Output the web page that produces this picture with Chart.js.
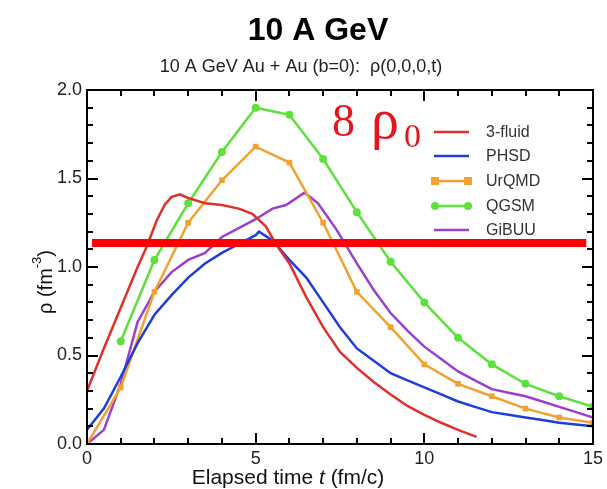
<!DOCTYPE html>
<html>
<head>
<meta charset="utf-8">
<script src="https://cdn.jsdelivr.net/npm/chart.js"></script>
<style>
html, body { margin: 0; padding: 0; background: #fff; }
</style>
</head>
<body>
<canvas id="myChart" width="607" height="489"></canvas>
<script>
// 3-fluid (red)
const fluidT = [0, 0.5, 1, 1.5, 1.76, 2.06, 2.3, 2.5, 2.75, 3.0, 3.5, 4.0, 4.5, 4.9, 5.3, 5.6, 6.0, 6.5, 7.0, 7.5, 8.0, 8.5, 9.0, 9.5, 10.0, 10.5, 11.0, 11.55];
const fluidRho = [0.30, 0.54, 0.77, 1.00, 1.11, 1.26, 1.35, 1.395, 1.41, 1.39, 1.36, 1.35, 1.33, 1.30, 1.23, 1.13, 1.02, 0.83, 0.66, 0.52, 0.43, 0.35, 0.28, 0.215, 0.165, 0.12, 0.08, 0.04];
// PHSD (blue)
const phsdT = [0, 0.5, 1, 1.5, 2, 2.5, 3, 3.5, 4, 4.5, 5, 5.1, 5.5, 6, 6.5, 7, 7.5, 8, 8.5, 9, 9.5, 10, 10.5, 11, 11.5, 12, 12.5, 13, 13.5, 14, 14.5, 15];
const phsdRho = [0.08, 0.20, 0.38, 0.57, 0.73, 0.84, 0.94, 1.02, 1.08, 1.13, 1.18, 1.20, 1.15, 1.04, 0.94, 0.80, 0.66, 0.54, 0.47, 0.40, 0.36, 0.32, 0.28, 0.24, 0.21, 0.18, 0.165, 0.15, 0.135, 0.12, 0.11, 0.10];
// UrQMD (orange, squares)
const urqmdT = [0, 1, 2, 3, 4, 5, 6, 7, 8, 9, 10, 11, 12, 13, 14, 15];
const urqmdRho = [0.0, 0.32, 0.86, 1.25, 1.49, 1.68, 1.59, 1.25, 0.86, 0.66, 0.45, 0.34, 0.27, 0.20, 0.15, 0.12];
// QGSM (green, circles)
const qgsmT = [1, 2, 3, 4, 5, 6, 7, 8, 9, 10, 11, 12, 13, 14, 15];
const qgsmRho = [0.58, 1.04, 1.36, 1.65, 1.90, 1.86, 1.61, 1.31, 1.03, 0.80, 0.60, 0.45, 0.34, 0.27, 0.21];
// GiBUU (purple)
const gibuuT = [0, 0.5, 1, 1.5, 2, 2.5, 3, 3.5, 4, 4.5, 5, 5.5, 5.9, 6.45, 6.85, 7.4, 8, 8.5, 9, 9.5, 10, 10.5, 11, 11.5, 12, 12.5, 13, 13.5, 14, 14.5, 15];
const gibuuRho = [0.0, 0.08, 0.34, 0.69, 0.86, 0.97, 1.04, 1.08, 1.17, 1.22, 1.27, 1.33, 1.35, 1.42, 1.36, 1.21, 1.02, 0.87, 0.74, 0.64, 0.55, 0.48, 0.41, 0.36, 0.31, 0.29, 0.27, 0.24, 0.21, 0.18, 0.15];
// 8 rho0 marker line
const barT = [0.15, 14.8];
const barRho = [1.135, 1.135];

const xTicks = [0, 5, 10, 15];
const yTicks = [0, 0.5, 1.0, 1.5, 2.0];
const xMinorStep = 1;
const yMinorStep = 0.1;

const names = ["3-fluid", "PHSD", "UrQMD", "QGSM", "GiBUU"];
const colors = ["#e0302c", "#1e3ed8", "#f2a232", "#5fe03e", "#9a40cc"];

const SANS = "'Liberation Sans', Arial, sans-serif";
const SERIF = "'Liberation Serif', 'Times New Roman', serif";

function pts(xs, ys) {
  return xs.map((x, i) => ({x: x, y: ys[i]}));
}

const decor = {
  id: "decor",
  afterDraw(chart) {
    const ctx = chart.ctx;
    const a = chart.chartArea;
    const L = a.left, R = a.right, T = a.top, B = a.bottom;
    ctx.save();
    ctx.fillStyle = "#000";
    // frame
    ctx.fillRect(L - 1, T - 1, R - L + 2, 2);
    ctx.fillRect(L - 1, B - 1, R - L + 2, 2);
    ctx.fillRect(L - 1, T - 1, 2, B - T + 2);
    ctx.fillRect(R - 1, T - 1, 2, B - T + 2);
    // inward ticks
    const nx = Math.round(15 / xMinorStep);
    for (let k = 0; k <= nx; k++) {
      const px = Math.round(L + (R - L) * k / nx);
      const len = k % 5 === 0 ? 11 : 6;
      ctx.fillRect(px - 1, B - len, 2, len);
      ctx.fillRect(px - 1, T, 2, len);
    }
    const ny = Math.round(2 / yMinorStep);
    for (let k = 0; k <= ny; k++) {
      const py = Math.round(B - (B - T) * k / ny);
      const len = k % 5 === 0 ? 11 : 6;
      ctx.fillRect(L, py - 1, len, 2);
      ctx.fillRect(R - len, py - 1, len, 2);
    }

    // titles
    ctx.textAlign = "center";
    ctx.textBaseline = "middle";
    ctx.font = "bold 32px " + SANS;
    ctx.fillText("10 A GeV", 318, 31);
    ctx.fillStyle = "#222";
    ctx.font = "18px " + SANS;
    ctx.fillText("10 A GeV Au + Au (b=0):  \u03c1(0,0,0,t)", 301, 67);

    // x axis title with italic t
    ctx.fillStyle = "#111";
    ctx.textAlign = "left";
    const p1 = "Elapsed time ", p3 = " (fm/c)";
    ctx.font = "21px " + SANS;
    const w1 = ctx.measureText(p1).width, w3 = ctx.measureText(p3).width;
    ctx.font = "italic 21px " + SANS;
    const w2 = ctx.measureText("t").width;
    const sx = 288 - (w1 + w2 + w3) / 2;
    const ty = 478;
    ctx.font = "21px " + SANS;
    ctx.fillText(p1, sx, ty);
    ctx.font = "italic 21px " + SANS;
    ctx.fillText("t", sx + w1, ty);
    ctx.font = "21px " + SANS;
    ctx.fillText(p3, sx + w1 + w2, ty);

    // y axis title
    ctx.save();
    ctx.translate(46, 282);
    ctx.rotate(-Math.PI / 2);
    ctx.font = "20px " + SANS;
    const a1 = "\u03c1 (fm", a3 = ")";
    const wa1 = ctx.measureText(a1).width;
    const wa3 = ctx.measureText(a3).width;
    ctx.font = "13px " + SANS;
    const wa2 = ctx.measureText("-3").width;
    const ax = -(wa1 + wa2 + wa3) / 2;
    ctx.font = "20px " + SANS;
    ctx.fillText(a1, ax, 0);
    ctx.font = "13px " + SANS;
    ctx.fillText("-3", ax + wa1, -9);
    ctx.font = "20px " + SANS;
    ctx.fillText(a3, ax + wa1 + wa2, 0);
    ctx.restore();

    // legend
    const ly = [132, 156, 181, 206, 230];
    ctx.font = "16px " + SANS;
    names.forEach((n, i) => {
      ctx.strokeStyle = colors[i];
      ctx.lineWidth = 2.5;
      ctx.beginPath();
      ctx.moveTo(434, ly[i]);
      ctx.lineTo(469, ly[i]);
      ctx.stroke();
      ctx.fillStyle = colors[i];
      if (i === 2) {
        ctx.fillRect(431, ly[i] - 4, 8, 8);
        ctx.fillRect(464, ly[i] - 4, 8, 8);
      }
      if (i === 3) {
        ctx.beginPath(); ctx.arc(435, ly[i], 4, 0, 2 * Math.PI); ctx.fill();
        ctx.beginPath(); ctx.arc(468, ly[i], 4, 0, 2 * Math.PI); ctx.fill();
      }
      ctx.fillStyle = "#333";
      ctx.fillText(n, 486, ly[i] + 1);
    });

    // 8 rho_0
    ctx.fillStyle = "#e8141c";
    ctx.textBaseline = "alphabetic";
    ctx.font = "46px " + SERIF;
    ctx.fillText("8", 332, 136);
    ctx.font = "56px " + SERIF;
    ctx.fillText("\u03c1", 371, 138);
    ctx.font = "34px " + SERIF;
    ctx.fillText("0", 404, 147);
    ctx.restore();
  }
};

new Chart("myChart", {
  type: "line",
  data: {
    datasets: [{
      data: pts(barT, barRho),
      borderColor: "#ff0000",
      borderWidth: 8,
      borderCapStyle: "butt",
      pointRadius: 0
    }, {
      data: pts(fluidT, fluidRho),
      borderColor: colors[0],
      borderWidth: 2.5,
      pointRadius: 0
    }, {
      data: pts(phsdT, phsdRho),
      borderColor: colors[1],
      borderWidth: 2.5,
      pointRadius: 0
    }, {
      data: pts(urqmdT, urqmdRho),
      borderColor: colors[2],
      backgroundColor: colors[2],
      borderWidth: 2.5,
      pointStyle: "rect",
      pointRadius: 4,
      pointBorderWidth: 0
    }, {
      data: pts(qgsmT, qgsmRho),
      borderColor: colors[3],
      backgroundColor: colors[3],
      borderWidth: 2.5,
      pointStyle: "circle",
      pointRadius: 4,
      pointBorderWidth: 0
    }, {
      data: pts(gibuuT, gibuuRho),
      borderColor: colors[4],
      borderWidth: 2.5,
      pointRadius: 0
    }]
  },
  options: {
    responsive: false,
    animation: false,
    layout: {padding: {top: 90, right: 10, left: 0, bottom: 0}},
    plugins: {legend: {display: false}, tooltip: {enabled: false}},
    elements: {line: {tension: 0, fill: false}},
    scales: {
      x: {
        type: "linear", min: 0, max: 15,
        afterFit: s => { s.height = 45; },
        afterBuildTicks: s => { s.ticks = xTicks.map(v => ({value: v})); },
        grid: {display: false, drawTicks: false, tickLength: 0},
        border: {display: false},
        ticks: {color: "#222", padding: 4, maxRotation: 0, autoSkip: false,
                font: {family: SANS, size: 18}}
      },
      y: {
        type: "linear", min: 0, max: 2,
        afterFit: s => { s.width = 87; },
        afterBuildTicks: s => { s.ticks = yTicks.map(v => ({value: v})); },
        grid: {display: false, drawTicks: false, tickLength: 0},
        border: {display: false},
        ticks: {color: "#222", padding: 5, callback: v => v.toFixed(1),
                font: {family: SANS, size: 18}}
      }
    }
  },
  plugins: [decor]
});
</script>
</body>
</html>
